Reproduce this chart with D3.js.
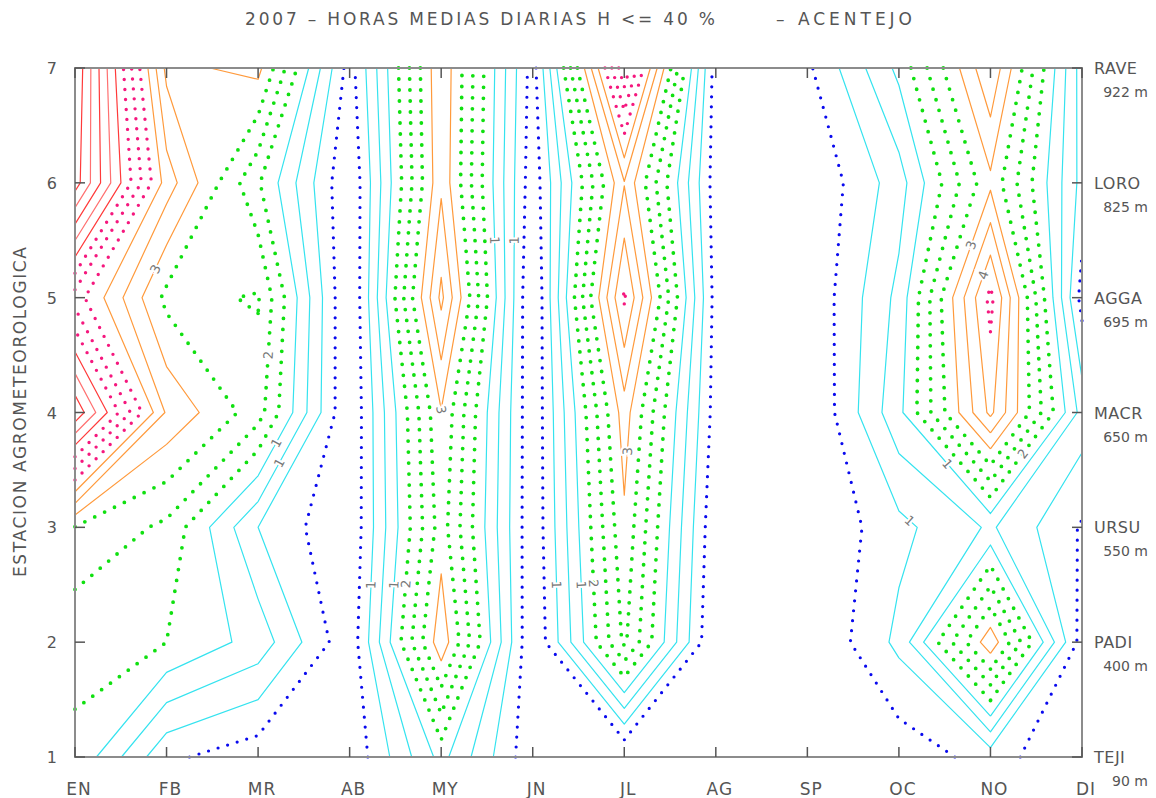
<!DOCTYPE html>
<html><head><meta charset="utf-8">
<script src="https://cdn.jsdelivr.net/npm/d3@7"></script>
<style>
body{margin:0;background:#fff}
svg{display:block}
text{font-family:"DejaVu Sans",sans-serif;fill:#555}
</style>
</head><body><svg id="c" width="1156" height="798"></svg>
<script>
// ---------- data (hours per day with H <= 40 %) ----------
const months = ["EN","FB","MR","AB","MY","JN","JL","AG","SP","OC","NO","DI"];
const stations = ["TEJI","PADI","URSU","MACR","AGGA","LORO","RAVE"];
const altitudes = ["90 m","400 m","550 m","650 m","695 m","825 m","922 m"];
const yTicks = [1,2,3,4,5,6,7];
const TEJI = [1.75,0.47,0.19,0.11,1.57,0.13,0.02,0.00,0.00,0.18,0.54,0.11];
const PADI = [1.87,1.80,1.31,0.14,3.10,0.05,2.57,0.00,0.01,0.84,3.10,0.24];
const URSU = [2.48,2.07,0.75,0.07,2.68,0.10,2.78,0.09,0.03,0.65,1.15,0.36];
const MACR = [5.93,3.15,2.31,0.04,2.83,0.09,3.03,0.23,0.00,1.35,3.64,0.96];
const AGGA = [4.08,2.40,2.53,0.00,3.64,0.00,3.95,0.25,0.07,1.20,4.01,0.26];
const LORO = [6.53,3.38,1.84,0.05,3.13,0.16,3.18,0.21,0.05,0.94,2.77,0.63];
const RAVE = [6.68,2.75,2.96,0.23,3.17,0.23,4.88,0.21,0.33,1.54,3.52,0.58];
const levels = [0.4,0.75,1.1,1.45,1.8,2.15,2.5,2.85,3.2,3.55,3.9,4.25,4.6,4.95,5.3,5.65,6.0,6.35];
// contour labels: [level index, month position, station position]
const labelSpecs = [
  [7,0.85,5.26],[5,2.13,4.5],[3,2.21,3.73],[2,2.35,3.51],
  [1,3.22,2.5],[3,3.47,2.5],[4,3.72,2.5],
  [3,4.57,5.5],[1,4.78,5.5],[7,4.0,4.02],
  [1,5.3,2.5],[3,5.57,2.5],[4,5.88,2.52],[7,6.06,3.66],
  [7,9.78,5.46],[9,9.91,5.2],[1,9.12,3.06],[3,9.54,3.56],[4,10.27,3.69]
];
const grid = [TEJI,PADI,URSU,MACR,AGGA,LORO,RAVE];

// ---------- layout ----------
const svg = d3.select("#c");
const x = d3.scaleLinear().domain([0,11]).range([75,1082]);
const y = d3.scaleLinear().domain([1,7]).range([757,68]);

function styleFor(k){
  if(k===0) return {c:"#0a0aee",w:3.2,d:"0 10",cap:"round"};
  if(k<=3) return {c:"#35e3ef",w:1.2,d:null,cap:"butt"};
  if(k<=6) return {c:"#10e010",w:3.8,d:"0 11",cap:"round"};
  if(k<=9) return {c:"#ff9a3c",w:1.2,d:null,cap:"butt"};
  if(k<=12) return {c:"#f5187e",w:3.4,d:"0 10",cap:"round"};
  return {c:k%2? "#ff3a3a":"#ff7070",w:1.2,d:null,cap:"butt"};
}

// ---------- marching squares (line version; saddles isolate the high corners) ----------
function isolines(L){
  const nj=grid.length, ni=grid[0].length, segs=[];
  const cr=(p,q)=>(p>=L)!==(q>=L);
  const t=(p,q)=>(L-p)/(q-p);
  for(let j=0;j<nj-1;j++) for(let i=0;i<ni-1;i++){
    const a=grid[j][i], b=grid[j][i+1], c=grid[j+1][i+1], d=grid[j+1][i];
    const P={};
    if(cr(a,b)) P.e0={k:"h"+i+","+j,x:i+t(a,b),y:j};
    if(cr(b,c)) P.e1={k:"v"+(i+1)+","+j,x:i+1,y:j+t(b,c)};
    if(cr(d,c)) P.e2={k:"h"+i+","+(j+1),x:i+t(d,c),y:j+1};
    if(cr(a,d)) P.e3={k:"v"+i+","+j,x:i,y:j+t(a,d)};
    const ks=Object.keys(P);
    if(ks.length===2) segs.push([P[ks[0]],P[ks[1]]]);
    else if(ks.length===4){
      if(a>=L){ segs.push([P.e3,P.e0]); segs.push([P.e1,P.e2]); }
      else { segs.push([P.e0,P.e1]); segs.push([P.e2,P.e3]); }
    }
  }
  const adj=new Map();
  segs.forEach((s,idx)=>s.forEach(p=>{ if(!adj.has(p.k)) adj.set(p.k,[]); adj.get(p.k).push(idx); }));
  const used=new Array(segs.length).fill(false), lines=[];
  const nextFrom=(k)=>{ const l=adj.get(k)||[]; for(const id of l) if(!used[id]) return id; return -1; };
  const build=(id0,startK)=>{
    used[id0]=true;
    const s=segs[id0];
    const line = s[0].k===startK ? [s[0],s[1]] : [s[1],s[0]];
    let id;
    while((id=nextFrom(line[line.length-1].k))>=0){
      used[id]=true; const q=segs[id];
      line.push(q[0].k===line[line.length-1].k? q[1]:q[0]);
    }
    while((id=nextFrom(line[0].k))>=0){
      used[id]=true; const q=segs[id];
      line.unshift(q[0].k===line[0].k? q[1]:q[0]);
    }
    return line;
  };
  for(const [k,l] of adj){ if(l.length===1 && !used[l[0]]) lines.push(build(l[0],k)); }
  segs.forEach((s,idx)=>{ if(!used[idx]) lines.push(build(idx,s[0].k)); });
  return lines.map(l=>l.map(p=>[x(p.x),y(p.y+1)]));
}

const lineGen=d3.line();
const gC=svg.append("g");
const contourLines=levels.map(L=>isolines(L));
contourLines.forEach((lines,k)=>{
  const st=styleFor(k);
  lines.forEach(pts=>{
    gC.append("path").attr("d",lineGen(pts)).attr("fill","none")
      .attr("stroke",st.c).attr("stroke-width",st.w)
      .attr("stroke-linecap",st.cap).attr("stroke-linejoin","round")
      .attr("stroke-dasharray",st.d);
  });
});

// ---------- contour labels ----------
const gL=svg.append("g");
labelSpecs.forEach(([k,mx,sy])=>{
  const tx=x(mx), ty=y(sy);
  let best=null;
  contourLines[k].forEach(pts=>{
    for(let n=0;n<pts.length-1;n++){
      const [x1,y1]=pts[n],[x2,y2]=pts[n+1];
      const dx=x2-x1, dy=y2-y1, len2=dx*dx+dy*dy||1;
      let u=((tx-x1)*dx+(ty-y1)*dy)/len2; u=Math.max(0,Math.min(1,u));
      const px=x1+u*dx, py=y1+u*dy, dd=(px-tx)**2+(py-ty)**2;
      if(!best||dd<best.dd) best={dd,px,py,ang:Math.atan2(dy,dx)*180/Math.PI};
    }
  });
  if(!best) return;
  let a=best.ang; if(a>90) a-=180; if(a<=-90) a+=180;
  gL.append("text").attr("transform",`translate(${best.px},${best.py}) rotate(${a})`)
    .attr("text-anchor","middle").attr("dy","0.35em")
    .attr("font-size",13).style("fill","#777")
    .attr("stroke","#fff").attr("stroke-width",4).attr("paint-order","stroke")
    .text(Math.round(levels[k]));
});

// ---------- frame & ticks ----------
const gA=svg.append("g");
gA.append("rect").attr("x",x(0)).attr("y",y(7)).attr("width",x(11)-x(0)).attr("height",y(1)-y(7))
  .attr("fill","none").attr("stroke","#8c8c8c").attr("stroke-width",2);
months.forEach((m,i)=>{
  gA.append("line").attr("x1",x(i)).attr("x2",x(i)).attr("y1",y(1)).attr("y2",y(1)-10).attr("stroke","#555").attr("stroke-width",1.5);
  gA.append("line").attr("x1",x(i)).attr("x2",x(i)).attr("y1",y(7)).attr("y2",y(7)+10).attr("stroke","#555").attr("stroke-width",1.5);
  gA.append("text").attr("x",x(i)+4).attr("y",795).attr("text-anchor","middle").attr("font-size",17).attr("letter-spacing",1).text(m);
});
yTicks.forEach((v,i)=>{
  gA.append("line").attr("x1",x(0)).attr("x2",x(0)+10).attr("y1",y(v)).attr("y2",y(v)).attr("stroke","#555").attr("stroke-width",1.5);
  gA.append("line").attr("x1",x(11)-10).attr("x2",x(11)).attr("y1",y(v)).attr("y2",y(v)).attr("stroke","#555").attr("stroke-width",1.5);
  gA.append("text").attr("x",57).attr("y",y(v)+6).attr("text-anchor","end").attr("font-size",16).text(v);
  gA.append("text").attr("x",1094).attr("y",y(v)+6).attr("font-size",16).attr("letter-spacing",0.5).text(stations[i]);
  gA.append("text").attr("x",1148).attr("y",y(v)+29).attr("text-anchor","end").attr("font-size",14).text(altitudes[i]);
});
svg.append("text").attr("x",245).attr("y",25).attr("font-size",17).attr("textLength",470)
  .attr("lengthAdjust","spacing").text("2007 \u2013 HORAS MEDIAS DIARIAS H <= 40 %");
svg.append("text").attr("x",776).attr("y",25).attr("font-size",17).attr("textLength",136)
  .attr("lengthAdjust","spacing").text("\u2013 ACENTEJO");
svg.append("text").attr("transform","translate(26,577) rotate(-90)").attr("font-size",17)
  .attr("textLength",330).attr("lengthAdjust","spacing").text("ESTACION AGROMETEOROLOGICA");
</script></body></html>
